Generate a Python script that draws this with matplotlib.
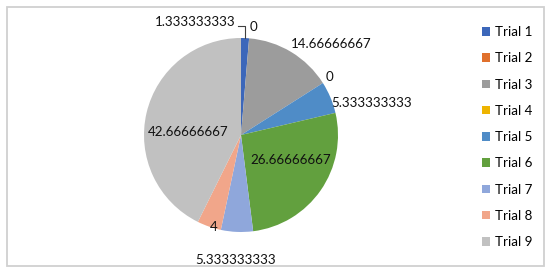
import numpy as np
import matplotlib.pyplot as plt
from matplotlib.patches import Patch, Rectangle

plt.rcParams['font.family'] = ['Lato', 'DejaVu Sans']

W, H = 550, 272

trials = ["Trial 1", "Trial 2", "Trial 3", "Trial 4", "Trial 5",
          "Trial 6", "Trial 7", "Trial 8", "Trial 9"]
values = [1.333333333, 0, 14.66666667, 0, 5.333333333,
          26.66666667, 5.333333333, 4, 42.66666667]
colors = ["#3C67BA", "#E0702C", "#9C9C9C", "#EEB400", "#4F8CC7",
          "#62A03E", "#8FA7DB", "#F1A68A", "#C1C1C1"]

# label centres in pixel coords (x right, y down)
label_pos = [(195, 22), (253, 27), (331, 44), (329, 77), (372, 103),
             (291, 160), (236, 260), (214, 227), (188, 132)]

CX, CY, R = 241, 135, 97

fig = plt.figure(figsize=(W / 100, H / 100), dpi=100)
ax = fig.add_axes([0, 0, 1, 1])

wedges, _ = ax.pie(values, colors=colors, startangle=90, counterclock=False,
                   center=(CX, H - CY), radius=R, frame=True,
                   wedgeprops=dict(linewidth=0))
ax.set_xlim(0, W)
ax.set_ylim(0, H)
ax.set_aspect('auto')
ax.axis('off')

for v, (lx, ly) in zip(values, label_pos):
    ax.text(lx, H - ly, f"{v:.10g}", ha='center', va='center', fontsize=9.6, color='#111111')

# leader line for the first slice
w = wedges[0]
mid = np.deg2rad((w.theta1 + w.theta2) / 2)
ex, ey = CX + R * np.cos(mid) * 0.99, (H - CY) + R * np.sin(mid)
ax.plot([237.5, ex, ex], [H - 25.5, H - 25.5, ey], color='#404040', lw=0.8)

# chart border
fig.add_artist(Rectangle((6.5 / W, 6.5 / H), 537 / W, 259 / H, transform=fig.transFigure,
                         fill=False, edgecolor='#D0D0D0', lw=1.3))

handles = [Patch(facecolor=c, edgecolor='none') for c in colors]
fig.legend(handles, trials, loc='upper left', bbox_to_anchor=(482 / W, 1 - 26 / H),
           frameon=False, fontsize=9.6, borderpad=0, borderaxespad=0,
           handlelength=0.62, handleheight=0.62, handletextpad=0.35,
           labelspacing=1.07)

fig.savefig("out.png", dpi=100)
